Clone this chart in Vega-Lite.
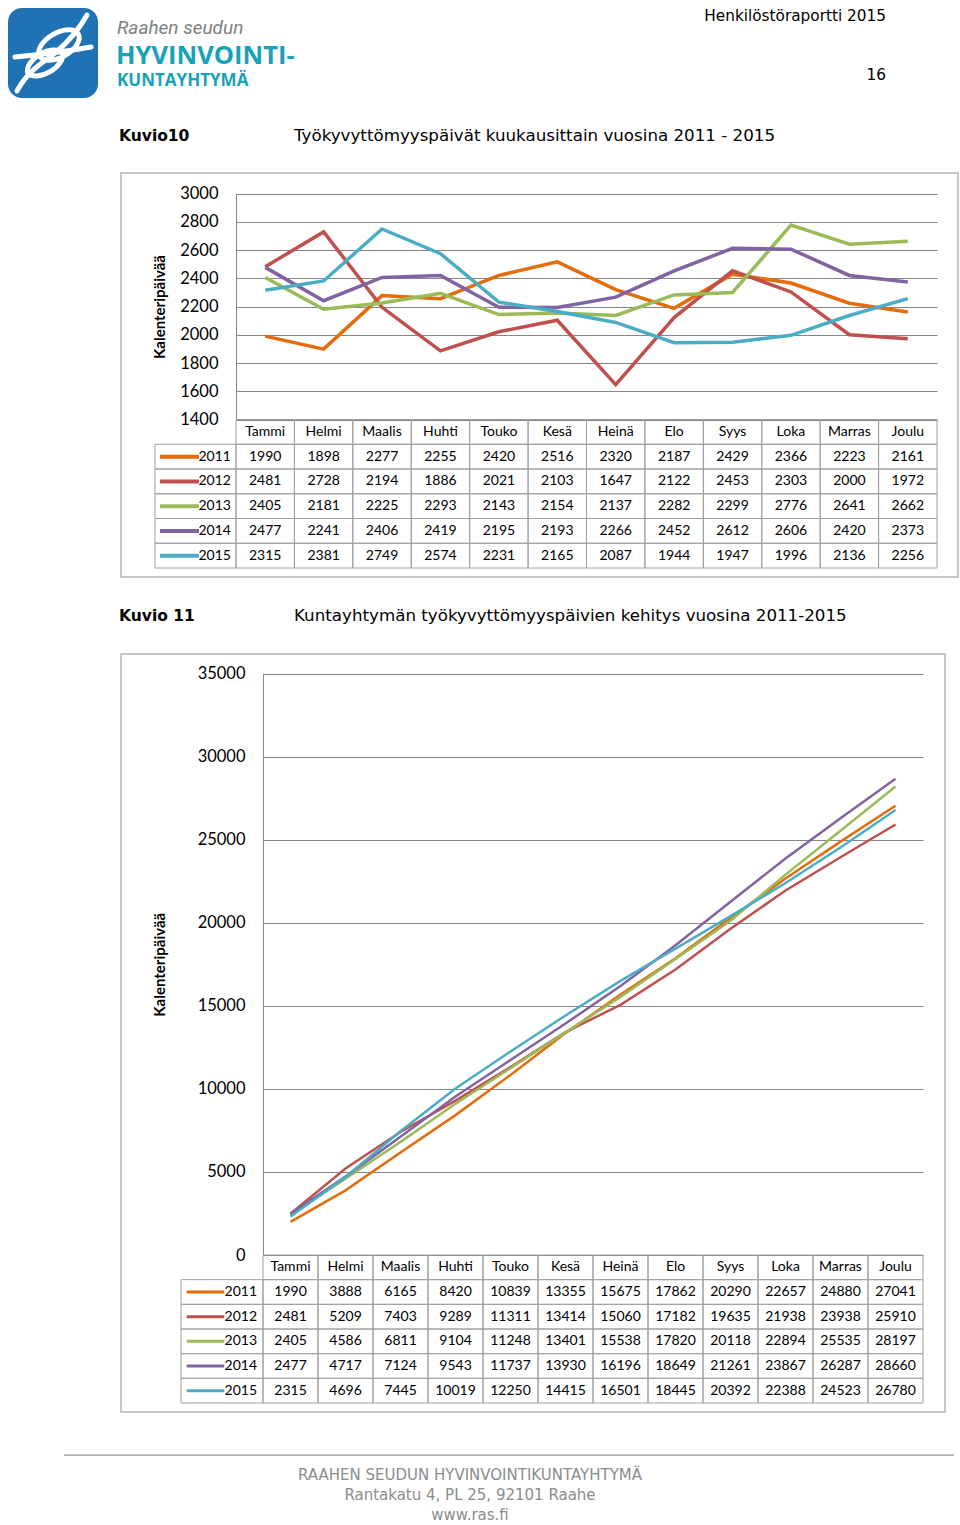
{
  "$schema": "https://vega.github.io/schema/vega-lite/v6.json",
  "padding": 0,
  "background": "white",
  "spacing": 0,
  "bounds": "flush",
  "config": {"view": {"stroke": null}, "font": "DejaVu Sans"},
  "datasets": {
    "kk": [
      {"year": "2011", "month": "Tammi", "days": 1990}, {"year": "2011", "month": "Helmi", "days": 1898}, {"year": "2011", "month": "Maalis", "days": 2277}, {"year": "2011", "month": "Huhti", "days": 2255}, {"year": "2011", "month": "Touko", "days": 2420}, {"year": "2011", "month": "Kesä", "days": 2516}, {"year": "2011", "month": "Heinä", "days": 2320}, {"year": "2011", "month": "Elo", "days": 2187}, {"year": "2011", "month": "Syys", "days": 2429}, {"year": "2011", "month": "Loka", "days": 2366}, {"year": "2011", "month": "Marras", "days": 2223}, {"year": "2011", "month": "Joulu", "days": 2161},
      {"year": "2012", "month": "Tammi", "days": 2481}, {"year": "2012", "month": "Helmi", "days": 2728}, {"year": "2012", "month": "Maalis", "days": 2194}, {"year": "2012", "month": "Huhti", "days": 1886}, {"year": "2012", "month": "Touko", "days": 2021}, {"year": "2012", "month": "Kesä", "days": 2103}, {"year": "2012", "month": "Heinä", "days": 1647}, {"year": "2012", "month": "Elo", "days": 2122}, {"year": "2012", "month": "Syys", "days": 2453}, {"year": "2012", "month": "Loka", "days": 2303}, {"year": "2012", "month": "Marras", "days": 2000}, {"year": "2012", "month": "Joulu", "days": 1972},
      {"year": "2013", "month": "Tammi", "days": 2405}, {"year": "2013", "month": "Helmi", "days": 2181}, {"year": "2013", "month": "Maalis", "days": 2225}, {"year": "2013", "month": "Huhti", "days": 2293}, {"year": "2013", "month": "Touko", "days": 2143}, {"year": "2013", "month": "Kesä", "days": 2154}, {"year": "2013", "month": "Heinä", "days": 2137}, {"year": "2013", "month": "Elo", "days": 2282}, {"year": "2013", "month": "Syys", "days": 2299}, {"year": "2013", "month": "Loka", "days": 2776}, {"year": "2013", "month": "Marras", "days": 2641}, {"year": "2013", "month": "Joulu", "days": 2662},
      {"year": "2014", "month": "Tammi", "days": 2477}, {"year": "2014", "month": "Helmi", "days": 2241}, {"year": "2014", "month": "Maalis", "days": 2406}, {"year": "2014", "month": "Huhti", "days": 2419}, {"year": "2014", "month": "Touko", "days": 2195}, {"year": "2014", "month": "Kesä", "days": 2193}, {"year": "2014", "month": "Heinä", "days": 2266}, {"year": "2014", "month": "Elo", "days": 2452}, {"year": "2014", "month": "Syys", "days": 2612}, {"year": "2014", "month": "Loka", "days": 2606}, {"year": "2014", "month": "Marras", "days": 2420}, {"year": "2014", "month": "Joulu", "days": 2373},
      {"year": "2015", "month": "Tammi", "days": 2315}, {"year": "2015", "month": "Helmi", "days": 2381}, {"year": "2015", "month": "Maalis", "days": 2749}, {"year": "2015", "month": "Huhti", "days": 2574}, {"year": "2015", "month": "Touko", "days": 2231}, {"year": "2015", "month": "Kesä", "days": 2165}, {"year": "2015", "month": "Heinä", "days": 2087}, {"year": "2015", "month": "Elo", "days": 1944}, {"year": "2015", "month": "Syys", "days": 1947}, {"year": "2015", "month": "Loka", "days": 1996}, {"year": "2015", "month": "Marras", "days": 2136}, {"year": "2015", "month": "Joulu", "days": 2256}
    ],
    "kum": [
      {"year": "2011", "month": "Tammi", "days": 1990}, {"year": "2011", "month": "Helmi", "days": 3888}, {"year": "2011", "month": "Maalis", "days": 6165}, {"year": "2011", "month": "Huhti", "days": 8420}, {"year": "2011", "month": "Touko", "days": 10839}, {"year": "2011", "month": "Kesä", "days": 13355}, {"year": "2011", "month": "Heinä", "days": 15675}, {"year": "2011", "month": "Elo", "days": 17862}, {"year": "2011", "month": "Syys", "days": 20290}, {"year": "2011", "month": "Loka", "days": 22657}, {"year": "2011", "month": "Marras", "days": 24880}, {"year": "2011", "month": "Joulu", "days": 27041},
      {"year": "2012", "month": "Tammi", "days": 2481}, {"year": "2012", "month": "Helmi", "days": 5209}, {"year": "2012", "month": "Maalis", "days": 7403}, {"year": "2012", "month": "Huhti", "days": 9289}, {"year": "2012", "month": "Touko", "days": 11311}, {"year": "2012", "month": "Kesä", "days": 13414}, {"year": "2012", "month": "Heinä", "days": 15060}, {"year": "2012", "month": "Elo", "days": 17182}, {"year": "2012", "month": "Syys", "days": 19635}, {"year": "2012", "month": "Loka", "days": 21938}, {"year": "2012", "month": "Marras", "days": 23938}, {"year": "2012", "month": "Joulu", "days": 25910},
      {"year": "2013", "month": "Tammi", "days": 2405}, {"year": "2013", "month": "Helmi", "days": 4586}, {"year": "2013", "month": "Maalis", "days": 6811}, {"year": "2013", "month": "Huhti", "days": 9104}, {"year": "2013", "month": "Touko", "days": 11248}, {"year": "2013", "month": "Kesä", "days": 13401}, {"year": "2013", "month": "Heinä", "days": 15538}, {"year": "2013", "month": "Elo", "days": 17820}, {"year": "2013", "month": "Syys", "days": 20118}, {"year": "2013", "month": "Loka", "days": 22894}, {"year": "2013", "month": "Marras", "days": 25535}, {"year": "2013", "month": "Joulu", "days": 28197},
      {"year": "2014", "month": "Tammi", "days": 2477}, {"year": "2014", "month": "Helmi", "days": 4717}, {"year": "2014", "month": "Maalis", "days": 7124}, {"year": "2014", "month": "Huhti", "days": 9543}, {"year": "2014", "month": "Touko", "days": 11737}, {"year": "2014", "month": "Kesä", "days": 13930}, {"year": "2014", "month": "Heinä", "days": 16196}, {"year": "2014", "month": "Elo", "days": 18649}, {"year": "2014", "month": "Syys", "days": 21261}, {"year": "2014", "month": "Loka", "days": 23867}, {"year": "2014", "month": "Marras", "days": 26287}, {"year": "2014", "month": "Joulu", "days": 28660},
      {"year": "2015", "month": "Tammi", "days": 2315}, {"year": "2015", "month": "Helmi", "days": 4696}, {"year": "2015", "month": "Maalis", "days": 7445}, {"year": "2015", "month": "Huhti", "days": 10019}, {"year": "2015", "month": "Touko", "days": 12250}, {"year": "2015", "month": "Kesä", "days": 14415}, {"year": "2015", "month": "Heinä", "days": 16501}, {"year": "2015", "month": "Elo", "days": 18445}, {"year": "2015", "month": "Syys", "days": 20392}, {"year": "2015", "month": "Loka", "days": 22388}, {"year": "2015", "month": "Marras", "days": 24523}, {"year": "2015", "month": "Joulu", "days": 26780}
    ],
    "kuukaudet": [
      {"month": "Tammi"}, {"month": "Helmi"}, {"month": "Maalis"}, {"month": "Huhti"}, {"month": "Touko"}, {"month": "Kesä"}, {"month": "Heinä"}, {"month": "Elo"}, {"month": "Syys"}, {"month": "Loka"}, {"month": "Marras"}, {"month": "Joulu"}
    ],
    "vuodet": [{"year": "2011"}, {"year": "2012"}, {"year": "2013"}, {"year": "2014"}, {"year": "2015"}]
  },
  "vconcat": [
    {
      "width": 960, "height": 172,
      "layer": [
        {"data": {"values": [{}]}, "mark": {"type": "rect", "x": 8, "x2": 98, "y": 8, "y2": 98, "cornerRadius": 14, "fill": "#1f72b3"}, "encoding": {}},
        {"data": {"values": [{}]}, "mark": {"type": "point", "x": 53, "y": 53, "size": 6400, "filled": false, "opacity": 1, "stroke": "white", "strokeWidth": 5, "strokeCap": "round",
          "shape": "M -0.9 0.95 C -0.6 0.4 -0.25 0.25 0.05 0 C 0.35 -0.25 0.6 -0.5 0.85 -0.95 M -0.95 0.1 C -0.4 0.05 0.4 -0.05 0.95 -0.15 M -0.33 0.08 A 0.55 0.3 -30 0 1 0.63 -0.48 A 0.55 0.3 -30 0 1 -0.33 0.08 M -0.63 0.5 A 0.5 0.28 -30 0 1 0.23 0 A 0.5 0.28 -30 0 1 -0.63 0.5"}, "encoding": {}},
        {"data": {"values": [{}]}, "mark": {"type": "text", "text": "Raahen seudun", "x": 117, "y": 34, "align": "left", "baseline": "alphabetic", "font": "Roboto", "fontStyle": "italic", "fontWeight": "normal", "fontSize": 19, "fill": "#808080"}, "encoding": {}},
        {"data": {"values": [{}]}, "mark": {"type": "text", "text": "HYVINVOINTI-", "x": 116, "y": 64, "align": "left", "baseline": "alphabetic", "font": "Open Sans", "fontWeight": "bold", "fontSize": 25.5, "fill": "#17a2b8"}, "encoding": {}},
        {"data": {"values": [{}]}, "mark": {"type": "text", "text": "KUNTAYHTYMÄ", "x": 117, "y": 86, "align": "left", "baseline": "alphabetic", "font": "Open Sans", "fontWeight": "bold", "fontSize": 17, "fill": "#17a2b8"}, "encoding": {}},
        {"data": {"values": [{}]}, "mark": {"type": "text", "text": "Henkilöstöraportti 2015", "x": 886, "y": 21, "align": "right", "baseline": "alphabetic", "font": "DejaVu Sans", "fontSize": 15.3, "fill": "black"}, "encoding": {}},
        {"data": {"values": [{}]}, "mark": {"type": "text", "text": "16", "x": 886, "y": 80, "align": "right", "baseline": "alphabetic", "font": "DejaVu Sans", "fontSize": 15.3, "fill": "black"}, "encoding": {}},
        {"data": {"values": [{}]}, "mark": {"type": "text", "text": "Kuvio10", "x": 119, "y": 141, "align": "left", "baseline": "alphabetic", "font": "DejaVu Sans", "fontWeight": "bold", "fontSize": 15.5, "fill": "black"}, "encoding": {}},
        {"data": {"values": [{}]}, "mark": {"type": "text", "text": "Työkyvyttömyyspäivät kuukausittain vuosina 2011 - 2015", "x": 294, "y": 141, "align": "left", "baseline": "alphabetic", "font": "DejaVu Sans", "fontSize": 16.7, "fill": "black"}, "encoding": {}}
      ]
    },
    {
      "width": 960, "height": 406,
      "resolve": {"scale": {"x": "independent", "y": "independent"}},
      "layer": [
        {"data": {"values": [{}]}, "mark": {"type": "rect", "x": 121, "x2": 958, "y": 1, "y2": 405, "fill": "transparent", "stroke": "#b5b5b5", "strokeWidth": 1.5}, "encoding": {}},
        {
          "data": {"name": "kk"},
          "mark": {"type": "line", "strokeWidth": 3.5},
          "encoding": {
            "x": {"field": "month", "type": "nominal", "scale": {"domain": ["Tammi","Helmi","Maalis","Huhti","Touko","Kesä","Heinä","Elo","Syys","Loka","Marras","Joulu"], "range": [236, 937], "paddingInner": 0, "paddingOuter": 0}, "axis": null},
            "y": {"field": "days", "type": "quantitative", "scale": {"domain": [1400, 3000], "range": [247.5, 21.5], "nice": false, "zero": false},
              "axis": {"values": [1400,1600,1800,2000,2200,2400,2600,2800,3000], "format": "d", "offset": -236, "domain": true, "domainColor": "#868686", "ticks": false, "tickSize": 0, "labelPadding": 18, "labelFont": "Lato", "labelFontSize": 16.5, "labelColor": "black", "grid": true, "gridColor": "#868686", "title": "Kalenteripäivää", "titleFont": "Lato", "titleFontSize": 15, "titleFontWeight": "bold", "titleColor": "black", "titlePadding": 12}},
            "color": {"field": "year", "type": "nominal", "scale": {"domain": ["2011","2012","2013","2014","2015"], "range": ["#E46C0A","#C0504D","#9BBB59","#8064A2","#4BACC6"]}, "legend": null},
            "order": {"value": null}
          }
        },
        {
          "data": {"name": "kk"},
          "mark": {"type": "rect", "filled": false, "stroke": "#a0a0a0", "strokeWidth": 1},
          "encoding": {
            "x": {"field": "month", "type": "nominal", "scale": {"domain": ["Tammi","Helmi","Maalis","Huhti","Touko","Kesä","Heinä","Elo","Syys","Loka","Marras","Joulu"], "range": [236, 937], "paddingInner": 0, "paddingOuter": 0}, "axis": null},
            "y": {"field": "year", "type": "nominal", "scale": {"domain": ["Kuukausi","2011","2012","2013","2014","2015"], "range": [247.5, 396], "paddingInner": 0, "paddingOuter": 0}, "axis": null}
          }
        },
        {
          "data": {"name": "kk"},
          "mark": {"type": "text", "font": "Lato", "fontSize": 14, "fill": "black"},
          "encoding": {
            "x": {"field": "month", "type": "nominal", "scale": {"domain": ["Tammi","Helmi","Maalis","Huhti","Touko","Kesä","Heinä","Elo","Syys","Loka","Marras","Joulu"], "range": [236, 937], "paddingInner": 0, "paddingOuter": 0}, "axis": null},
            "y": {"field": "year", "type": "nominal", "scale": {"domain": ["Kuukausi","2011","2012","2013","2014","2015"], "range": [247.5, 396], "paddingInner": 0, "paddingOuter": 0}, "axis": null},
            "text": {"field": "days", "type": "quantitative", "format": "d"}
          }
        },
        {
          "data": {"name": "kuukaudet"},
          "mark": {"type": "rect", "filled": false, "stroke": "#a0a0a0", "strokeWidth": 1},
          "encoding": {
            "x": {"field": "month", "type": "nominal", "scale": {"domain": ["Tammi","Helmi","Maalis","Huhti","Touko","Kesä","Heinä","Elo","Syys","Loka","Marras","Joulu"], "range": [236, 937], "paddingInner": 0, "paddingOuter": 0}, "axis": null},
            "y": {"datum": "Kuukausi", "type": "nominal", "scale": {"domain": ["Kuukausi","2011","2012","2013","2014","2015"], "range": [247.5, 396], "paddingInner": 0, "paddingOuter": 0}, "axis": null}
          }
        },
        {
          "data": {"name": "kuukaudet"},
          "mark": {"type": "text", "font": "Lato", "fontSize": 14, "fill": "black"},
          "encoding": {
            "x": {"field": "month", "type": "nominal", "scale": {"domain": ["Tammi","Helmi","Maalis","Huhti","Touko","Kesä","Heinä","Elo","Syys","Loka","Marras","Joulu"], "range": [236, 937], "paddingInner": 0, "paddingOuter": 0}, "axis": null},
            "y": {"datum": "Kuukausi", "type": "nominal", "scale": {"domain": ["Kuukausi","2011","2012","2013","2014","2015"], "range": [247.5, 396], "paddingInner": 0, "paddingOuter": 0}, "axis": null},
            "text": {"field": "month", "type": "nominal"}
          }
        },
        {
          "data": {"name": "vuodet"},
          "mark": {"type": "rect", "filled": false, "stroke": "#a0a0a0", "strokeWidth": 1},
          "encoding": {
            "x": {"datum": 0, "type": "quantitative", "scale": {"domain": [0, 1], "range": [155, 236], "nice": false, "zero": false}, "axis": null},
            "x2": {"datum": 1},
            "y": {"field": "year", "type": "nominal", "scale": {"domain": ["Kuukausi","2011","2012","2013","2014","2015"], "range": [247.5, 396], "paddingInner": 0, "paddingOuter": 0}, "axis": null}
          }
        },
        {
          "data": {"name": "vuodet"},
          "mark": {"type": "rule", "strokeWidth": 4},
          "encoding": {
            "x": {"datum": 0.062, "type": "quantitative", "scale": {"domain": [0, 1], "range": [155, 236], "nice": false, "zero": false}, "axis": null},
            "x2": {"datum": 0.543},
            "y": {"field": "year", "type": "nominal", "scale": {"domain": ["Kuukausi","2011","2012","2013","2014","2015"], "range": [247.5, 396], "paddingInner": 0, "paddingOuter": 0}, "axis": null},
            "color": {"field": "year", "type": "nominal", "scale": {"domain": ["2011","2012","2013","2014","2015"], "range": ["#E46C0A","#C0504D","#9BBB59","#8064A2","#4BACC6"]}, "legend": null}
          }
        },
        {
          "data": {"name": "vuodet"},
          "mark": {"type": "text", "align": "right", "font": "Lato", "fontSize": 14, "fill": "black"},
          "encoding": {
            "x": {"datum": 0.938, "type": "quantitative", "scale": {"domain": [0, 1], "range": [155, 236], "nice": false, "zero": false}, "axis": null},
            "y": {"field": "year", "type": "nominal", "scale": {"domain": ["Kuukausi","2011","2012","2013","2014","2015"], "range": [247.5, 396], "paddingInner": 0, "paddingOuter": 0}, "axis": null},
            "text": {"field": "year", "type": "nominal"}
          }
        }
      ]
    },
    {
      "width": 960, "height": 75,
      "layer": [
        {"data": {"values": [{}]}, "mark": {"type": "text", "text": "Kuvio 11", "x": 119, "y": 43, "align": "left", "baseline": "alphabetic", "font": "DejaVu Sans", "fontWeight": "bold", "fontSize": 15.5, "fill": "black"}, "encoding": {}},
        {"data": {"values": [{}]}, "mark": {"type": "text", "text": "Kuntayhtymän työkyvyttömyyspäivien kehitys vuosina 2011-2015", "x": 294, "y": 43, "align": "left", "baseline": "alphabetic", "font": "DejaVu Sans", "fontSize": 16.7, "fill": "black"}, "encoding": {}}
      ]
    },
    {
      "width": 960, "height": 760,
      "resolve": {"scale": {"x": "independent", "y": "independent"}},
      "layer": [
        {"data": {"values": [{}]}, "mark": {"type": "rect", "x": 121, "x2": 945, "y": 1, "y2": 759, "fill": "transparent", "stroke": "#b5b5b5", "strokeWidth": 1.5}, "encoding": {}},
        {
          "data": {"name": "kum"},
          "mark": {"type": "line", "strokeWidth": 2.5},
          "encoding": {
            "x": {"field": "month", "type": "nominal", "scale": {"domain": ["Tammi","Helmi","Maalis","Huhti","Touko","Kesä","Heinä","Elo","Syys","Loka","Marras","Joulu"], "range": [263, 923], "paddingInner": 0, "paddingOuter": 0}, "axis": null},
            "y": {"field": "days", "type": "quantitative", "scale": {"domain": [0, 35000], "range": [602, 20.5], "nice": false, "zero": false},
              "axis": {"values": [0,5000,10000,15000,20000,25000,30000,35000], "format": "d", "offset": -263, "domain": true, "domainColor": "#868686", "ticks": false, "tickSize": 0, "labelPadding": 18, "labelFont": "Lato", "labelFontSize": 16.5, "labelColor": "black", "grid": true, "gridColor": "#868686", "title": "Kalenteripäivää", "titleFont": "Lato", "titleFontSize": 15, "titleFontWeight": "bold", "titleColor": "black", "titlePadding": 30}},
            "color": {"field": "year", "type": "nominal", "scale": {"domain": ["2011","2012","2013","2014","2015"], "range": ["#E46C0A","#C0504D","#9BBB59","#8064A2","#4BACC6"]}, "legend": null},
            "order": {"value": null}
          }
        },
        {
          "data": {"name": "kum"},
          "mark": {"type": "rect", "filled": false, "stroke": "#a0a0a0", "strokeWidth": 1},
          "encoding": {
            "x": {"field": "month", "type": "nominal", "scale": {"domain": ["Tammi","Helmi","Maalis","Huhti","Touko","Kesä","Heinä","Elo","Syys","Loka","Marras","Joulu"], "range": [263, 923], "paddingInner": 0, "paddingOuter": 0}, "axis": null},
            "y": {"field": "year", "type": "nominal", "scale": {"domain": ["Kuukausi","2011","2012","2013","2014","2015"], "range": [602, 750], "paddingInner": 0, "paddingOuter": 0}, "axis": null}
          }
        },
        {
          "data": {"name": "kum"},
          "mark": {"type": "text", "font": "Lato", "fontSize": 14, "fill": "black"},
          "encoding": {
            "x": {"field": "month", "type": "nominal", "scale": {"domain": ["Tammi","Helmi","Maalis","Huhti","Touko","Kesä","Heinä","Elo","Syys","Loka","Marras","Joulu"], "range": [263, 923], "paddingInner": 0, "paddingOuter": 0}, "axis": null},
            "y": {"field": "year", "type": "nominal", "scale": {"domain": ["Kuukausi","2011","2012","2013","2014","2015"], "range": [602, 750], "paddingInner": 0, "paddingOuter": 0}, "axis": null},
            "text": {"field": "days", "type": "quantitative", "format": "d"}
          }
        },
        {
          "data": {"name": "kuukaudet"},
          "mark": {"type": "rect", "filled": false, "stroke": "#a0a0a0", "strokeWidth": 1},
          "encoding": {
            "x": {"field": "month", "type": "nominal", "scale": {"domain": ["Tammi","Helmi","Maalis","Huhti","Touko","Kesä","Heinä","Elo","Syys","Loka","Marras","Joulu"], "range": [263, 923], "paddingInner": 0, "paddingOuter": 0}, "axis": null},
            "y": {"datum": "Kuukausi", "type": "nominal", "scale": {"domain": ["Kuukausi","2011","2012","2013","2014","2015"], "range": [602, 750], "paddingInner": 0, "paddingOuter": 0}, "axis": null}
          }
        },
        {
          "data": {"name": "kuukaudet"},
          "mark": {"type": "text", "font": "Lato", "fontSize": 14, "fill": "black"},
          "encoding": {
            "x": {"field": "month", "type": "nominal", "scale": {"domain": ["Tammi","Helmi","Maalis","Huhti","Touko","Kesä","Heinä","Elo","Syys","Loka","Marras","Joulu"], "range": [263, 923], "paddingInner": 0, "paddingOuter": 0}, "axis": null},
            "y": {"datum": "Kuukausi", "type": "nominal", "scale": {"domain": ["Kuukausi","2011","2012","2013","2014","2015"], "range": [602, 750], "paddingInner": 0, "paddingOuter": 0}, "axis": null},
            "text": {"field": "month", "type": "nominal"}
          }
        },
        {
          "data": {"name": "vuodet"},
          "mark": {"type": "rect", "filled": false, "stroke": "#a0a0a0", "strokeWidth": 1},
          "encoding": {
            "x": {"datum": 0, "type": "quantitative", "scale": {"domain": [0, 1], "range": [181, 263], "nice": false, "zero": false}, "axis": null},
            "x2": {"datum": 1},
            "y": {"field": "year", "type": "nominal", "scale": {"domain": ["Kuukausi","2011","2012","2013","2014","2015"], "range": [602, 750], "paddingInner": 0, "paddingOuter": 0}, "axis": null}
          }
        },
        {
          "data": {"name": "vuodet"},
          "mark": {"type": "rule", "strokeWidth": 3},
          "encoding": {
            "x": {"datum": 0.07, "type": "quantitative", "scale": {"domain": [0, 1], "range": [181, 263], "nice": false, "zero": false}, "axis": null},
            "x2": {"datum": 0.528},
            "y": {"field": "year", "type": "nominal", "scale": {"domain": ["Kuukausi","2011","2012","2013","2014","2015"], "range": [602, 750], "paddingInner": 0, "paddingOuter": 0}, "axis": null},
            "color": {"field": "year", "type": "nominal", "scale": {"domain": ["2011","2012","2013","2014","2015"], "range": ["#E46C0A","#C0504D","#9BBB59","#8064A2","#4BACC6"]}, "legend": null}
          }
        },
        {
          "data": {"name": "vuodet"},
          "mark": {"type": "text", "align": "right", "font": "Lato", "fontSize": 14, "fill": "black"},
          "encoding": {
            "x": {"datum": 0.927, "type": "quantitative", "scale": {"domain": [0, 1], "range": [181, 263], "nice": false, "zero": false}, "axis": null},
            "y": {"field": "year", "type": "nominal", "scale": {"domain": ["Kuukausi","2011","2012","2013","2014","2015"], "range": [602, 750], "paddingInner": 0, "paddingOuter": 0}, "axis": null},
            "text": {"field": "year", "type": "nominal"}
          }
        }
      ]
    },
    {
      "width": 960, "height": 112,
      "layer": [
        {"data": {"values": [{}]}, "mark": {"type": "rect", "x": 64, "x2": 954, "y": 41.5, "y2": 42.7, "fill": "#8c8c8c"}, "encoding": {}},
        {"data": {"values": [{}]}, "mark": {"type": "text", "text": "RAAHEN SEUDUN HYVINVOINTIKUNTAYHTYMÄ", "x": 470, "y": 67, "align": "center", "baseline": "alphabetic", "font": "DejaVu Sans", "fontSize": 15, "fill": "#8c8c8c"}, "encoding": {}},
        {"data": {"values": [{}]}, "mark": {"type": "text", "text": "Rantakatu 4, PL 25, 92101 Raahe", "x": 470, "y": 87, "align": "center", "baseline": "alphabetic", "font": "DejaVu Sans", "fontSize": 15, "fill": "#8c8c8c"}, "encoding": {}},
        {"data": {"values": [{}]}, "mark": {"type": "text", "text": "www.ras.fi", "x": 470, "y": 107, "align": "center", "baseline": "alphabetic", "font": "DejaVu Sans", "fontSize": 15, "fill": "#8c8c8c"}, "encoding": {}}
      ]
    }
  ]
}
